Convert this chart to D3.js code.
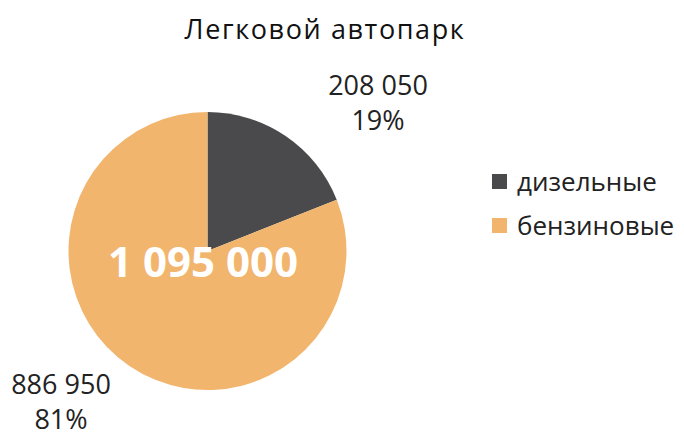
<!DOCTYPE html>
<html><head><meta charset="utf-8">
<script src="https://cdn.jsdelivr.net/npm/d3@7"></script>
<style>body{margin:0;background:#fff}text{font-family:"Open Sans","Noto Sans",sans-serif}</style>
</head><body>
<svg id="c" width="684" height="437"></svg>
<script>
const categories = ["дизельные", "бензиновые"];
const values = [208050, 886950];
const percents = ["19%", "81%"];
const valueLabels = ["208 050", "886 950"];
const totalLabel = "1 095 000";
const title = "Легковой автопарк";
const colors = ["#4a4a4c", "#f2b56e"];

const svg = d3.select("#c");
const cx = 207.5, cy = 251, r = 139;
const color = d3.scaleOrdinal().domain(categories).range(colors);
const pie = d3.pie().sort(null).value(d => d.v);
const data = pie(categories.map((c, i) => ({c, v: values[i], i})));
const arc = d3.arc().innerRadius(0).outerRadius(r);
const g = svg.append("g").attr("transform", `translate(${cx},${cy})`);
g.selectAll("path").data(data).join("path").attr("d", arc).attr("fill", d => color(d.data.c));

svg.append("text").attr("x", 325).attr("y", 39).attr("text-anchor", "middle")
  .attr("font-size", 27).attr("letter-spacing", 1.6).attr("fill", "#111").text(title);

svg.append("text").attr("x", 203).attr("y", 277).attr("text-anchor", "middle")
  .attr("font-size", 42).attr("font-weight", "bold").attr("fill", "#fff").text(totalLabel);

const labelPos = [[378, 95], [61, 394]];
data.forEach((d, i) => {
  const t = svg.append("text").attr("text-anchor", "middle").attr("font-size", 27).attr("fill", "#222");
  t.append("tspan").attr("x", labelPos[i][0]).attr("y", labelPos[i][1]).text(valueLabels[i]);
  t.append("tspan").attr("x", labelPos[i][0]).attr("y", labelPos[i][1] + 35).text(percents[i]);
});

const leg = svg.append("g").attr("transform", "translate(492,174)");
categories.forEach((c, i) => {
  leg.append("rect").attr("x", 0).attr("y", i * 44).attr("width", 15).attr("height", 15).attr("fill", color(c));
  leg.append("text").attr("x", 25).attr("y", i * 44 + 17).attr("font-size", 26).attr("fill", "#222").text(c);
});
</script>
</body></html>
